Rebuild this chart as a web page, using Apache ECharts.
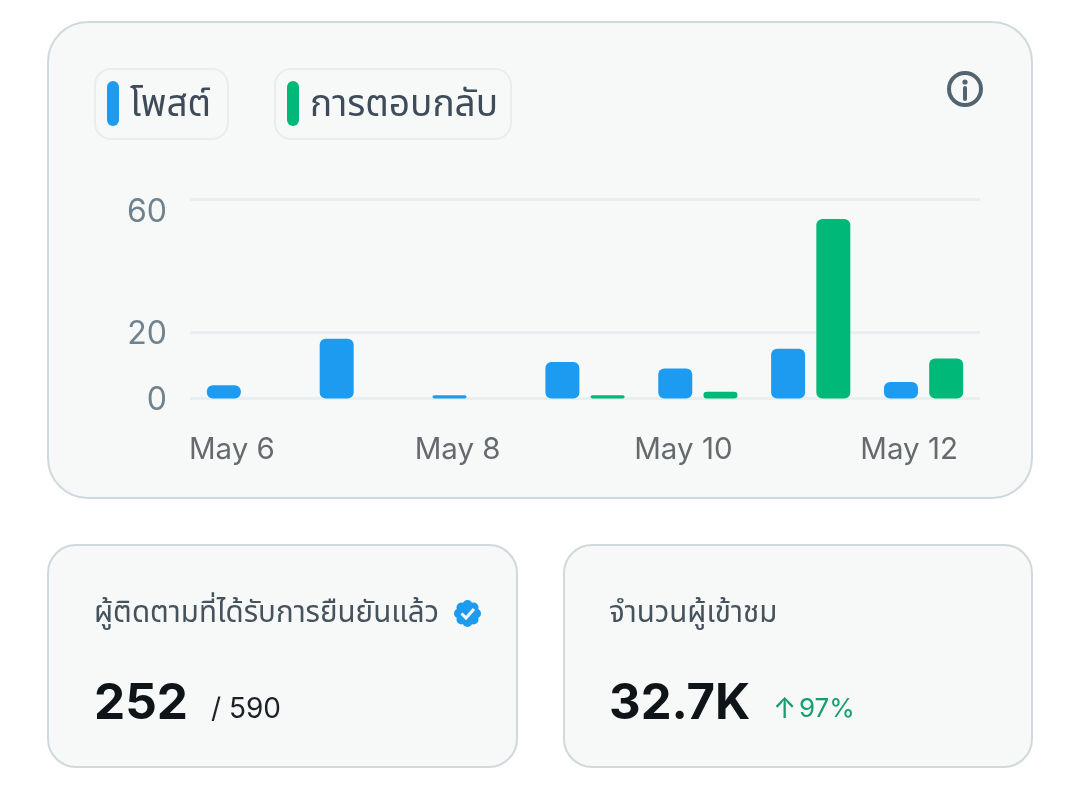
<!DOCTYPE html>
<html><head><meta charset="utf-8">
<style>html,body{margin:0;padding:0;background:#fff}#c{width:1080px;height:797px}</style>
<script src="https://cdn.jsdelivr.net/npm/echarts@6/dist/echarts.min.js"></script>
</head><body><div id="c"></div>
<script>
const categories = ['May 6','May 7','May 8','May 9','May 10','May 11','May 12'];
const posts = [4,18,1,11,9,15,5];
const replies = [0,0,0,1,2,54,12];
const yTicks = [0,20,60];
const seriesNames = ['โพสต์','การตอบกลับ'];
const followersLabel = 'ผู้ติดตามที่ได้รับการยืนยันแล้ว';
const followersValue = '252';
const followersTotal = '/ 590';
const viewsLabel = 'จำนวนผู้เข้าชม';
const viewsValue = '32.7K';
const viewsArrow = '↑';
const viewsChange = '97%';
const BLUE='#1D9BF0', GREEN='#00B877', CARD='#F7F9F9', LATIN='Inter, "Noto Sans", sans-serif', THAI='"Noto Sans Thai","Noto Sans","Noto Sans CJK SC",sans-serif';
const card=(x,y,w,h,r)=>({type:'rect',z:-10,shape:{x,y,width:w,height:h,r},style:{fill:CARD,stroke:'#CFD9DE',lineWidth:2}});
const pill=(x,y,w,h)=>({type:'rect',z:-5,shape:{x,y,width:w,height:h,r:16},style:{fill:CARD,stroke:'#E9EDEE',lineWidth:2}});
const txt=(x,y,text,size,fill,font,weight)=>({type:'text',z:5,x,y,style:{text,fontSize:size,fill,fontFamily:font,fontWeight:weight||400,verticalAlign:'middle'}});
const bumps=[0,45,90,135,180,225,270,315].map(a=>({type:'circle',z:5,shape:{cx:467.5+8.5*Math.cos(a*Math.PI/180),cy:613.5+8.5*Math.sin(a*Math.PI/180),r:5},style:{fill:BLUE}}));
const legendBase={top:81,padding:0,itemWidth:12,itemHeight:45,icon:'path://M0 6A6 6 0 0 1 12 6V39A6 6 0 0 1 0 39Z',itemStyle:{borderWidth:0},selectedMode:false,
  formatter:n=>`{t|${n}}`,
  textStyle:{rich:{t:{fontSize:37,color:'#3E4C59',fontFamily:THAI,padding:[10,0,0,6]}}}};
const chart=echarts.init(document.getElementById('c'),null,{renderer:'canvas'});
chart.setOption({
  animation:false,
  backgroundColor:'#fff',
  grid:{left:190,right:100,top:199,bottom:398.5,containLabel:false},
  legend:[
    {...legendBase,left:107,data:[seriesNames[0]]},
    {...legendBase,left:287,data:[seriesNames[1]]}
  ],
  xAxis:{type:'category',data:categories,
    axisLine:{show:false},axisTick:{show:false},
    axisLabel:{interval:1,margin:37,fontSize:29.5,color:'#666A6E',fontFamily:LATIN,padding:[0,29,0,0]}},
  yAxis:{type:'value',min:0,max:60,
    axisLine:{show:false},
    axisTick:{show:false,customValues:yTicks},
    axisLabel:{customValues:yTicks,margin:23,verticalAlignMaxLabel:'top',
      formatter:v=>`{v|${v}}`,
      rich:{v:{fontSize:32,lineHeight:22,padding:[4,0,0,0],color:'#71828F',fontFamily:LATIN}}},
    splitLine:{show:true,lineStyle:{color:'#E9EEF0',width:3}}},
  series:[
    {name:seriesNames[0],type:'bar',data:posts,barWidth:34,barGap:'33%',itemStyle:{color:BLUE,borderRadius:6}},
    {name:seriesNames[1],type:'bar',data:replies,barWidth:34,itemStyle:{color:GREEN,borderRadius:6}}
  ],
  graphic:[
    card(48,22,984,476,40),
    card(48,545,469,222,28),
    card(564,545,468,222,28),
    pill(95,69,133,70),
    pill(275,69,236,70),
    {type:'circle',z:5,shape:{cx:965,cy:89,r:16},style:{fill:'none',stroke:'#536471',lineWidth:4}},
    {type:'circle',z:5,shape:{cx:965,cy:82,r:2.6},style:{fill:'#536471'}},
    {type:'line',z:5,shape:{x1:965,y1:88,x2:965,y2:99},style:{stroke:'#536471',lineWidth:4,lineCap:'round'}},
    txt(94,616,followersLabel,29.5,'#46525C',THAI),
    {type:'circle',z:5,shape:{cx:467.5,cy:613.5,r:11},style:{fill:BLUE}},
    ...bumps,
    {type:'polyline',z:6,shape:{points:[[461.5,613.5],[466,618],[474,609]]},style:{fill:'none',stroke:CARD,lineWidth:3}},
    txt(94,704,followersValue,49.5,'#0F1419',LATIN,700),
    txt(211,710,followersTotal,28,'#1B2127',LATIN),
    txt(609,616,viewsLabel,29.5,'#46525C',THAI),
    txt(609,704,viewsValue,49,'#0F1419',LATIN,700),
    txt(773,710,viewsArrow,28,'#179E70',LATIN),
    txt(799,709,viewsChange,26,'#179E70',LATIN)
  ]
});
</script></body></html>
